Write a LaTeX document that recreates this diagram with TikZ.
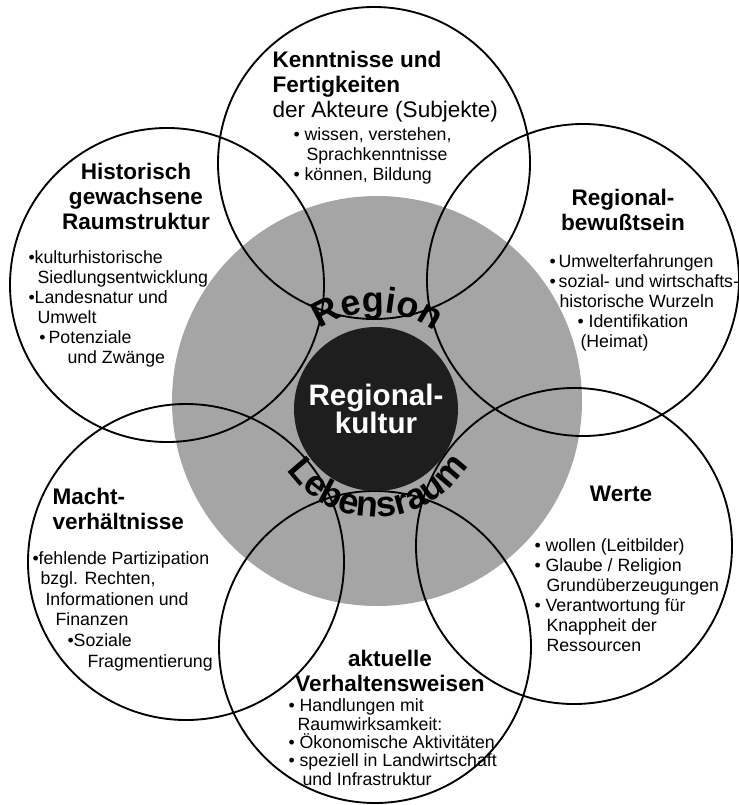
\documentclass[tikz,border=0pt]{standalone}
\usepackage{fontspec}
\setmainfont{Liberation Sans}
\usetikzlibrary{decorations.text}

\tikzset{every picture/.style={line width=0.75pt}}
\tikzset{
  ring/.style={line width=1.4pt},
  head/.style={font=\fontsize{16.9}{18.75}\selectfont\bfseries, inner sep=0pt, align=center},
  items/.style={font=\fontsize{13.3}{15}\selectfont, inner sep=0pt, align=left},
}
\newcommand{\arcfont}{\fontsize{27}{27}\selectfont\bfseries}

\begin{document}
\begin{tikzpicture}[x=0.75pt,y=0.75pt,yscale=-1,xscale=1]
\useasboundingbox (0,0) rectangle (738,805);

%Shape: Circle [Lebensraum]
\fill [color={rgb, 255:red, 165; green, 165; blue, 165 }] (377,401) circle [radius=205];

%Shape: Circle [Kenntnisse]
\draw [ring] (374,163) circle [radius=156];
%Shape: Circle [Historisch]
\draw [ring] (167,285) circle [radius=157];
%Shape: Circle [Regionalbewusstsein]
\draw [ring] (583,280) circle [radius=156];
%Shape: Circle [Macht]
\draw [ring] (186,562) circle [radius=158];
%Shape: Circle [Werte]
\draw [ring] (574,546) circle [radius=158];
%Shape: Circle [Verhalten]
\draw [ring] (375,647) circle [radius=156];

%Shape: Circle [Regionalkultur]
\fill [color={rgb, 255:red, 30; green, 30; blue, 30 }] (376,409) circle [radius=82];

% Text Node (base = last line)
\node (kultur) [font=\fontsize{22.2}{21}\selectfont\bfseries, text=white, align=center, inner sep=0pt, anchor=base] at (376,433) {Regional-\\kultur};

% Arc Text
\begin{scope}[yscale=-1]
\path [decorate, decoration={text along path, text align=center, text={|\arcfont|Region}}] (376,-409) ++(150:97) arc [start angle=150, end angle=28, radius=97];
\path [decorate, decoration={text along path, text align=center, text={|\arcfont|Lebensraum}}] (376,-409) ++(190:108) arc [start angle=190, end angle=353, radius=108];
\end{scope}

% Text Node
\node (kenn) [head, align=left, anchor=base west] at (272,118) {Kenntnisse und\\Fertigkeiten\\{\mdseries der Akteure (Subjekte)}};
% Text Node
\node (kennlist) [items, anchor=base west] at (293,181) {\textbullet\ wissen, verstehen,\\\hspace*{9.75pt}Sprachkenntnisse\\\textbullet\ können, Bildung};

% Text Node
\node (hist) [head, anchor=base] at (136,230) {Historisch\\gewachsene\\Raumstruktur};
% Text Node
\node (histlist) [items, anchor=base west] at (28,363) {\textbullet kulturhistorische\\\hspace*{6.75pt}Siedlungsentwicklung\\\textbullet Landesnatur und\\\hspace*{6.75pt}Umwelt\\\hspace*{8.25pt}\textbullet\,Potenziale\\\hspace*{29.25pt}und Zwänge};

% Text Node
\node (regb) [head, anchor=base] at (623,231) {Regional-\\bewußtsein};
% Text Node
\node (regblist) [items, anchor=base west] at (549,347) {\textbullet\,Umwelterfahrungen\\\textbullet\,sozial- und wirtschafts-\\\hspace*{7.5pt}historische Wurzeln\\\hspace*{21pt}\textbullet\ Identifikation\\\hspace*{23.25pt}(Heimat)};

% Text Node
\node (macht) [head, align=left, anchor=base west] at (52,529) {Macht-\\verhältnisse};
% Text Node
\node (machtlist) [items, font=\fontsize{13.3}{15.4}\selectfont, anchor=base west] at (32,667) {\textbullet fehlende Partizipation\\\hspace*{6pt}bzgl. Rechten,\\\hspace*{9.75pt}Informationen und\\\hspace*{17.25pt}Finanzen\\\hspace*{26.25pt}\textbullet Soziale\\\hspace*{41.25pt}Fragmentierung};

% Text Node
\node (werte) [head, anchor=base] at (621,501) {Werte};
% Text Node
\node (wertelist) [items, anchor=base west] at (534,651) {\textbullet\ wollen (Leitbilder)\\\textbullet\ Glaube / Religion\\\hspace*{9pt}Grundüberzeugungen\\\textbullet\ Verantwortung für\\\hspace*{9pt}Knappheit der\\\hspace*{9pt}Ressourcen};

% Text Node
\node (akt) [head, anchor=base] at (390,691) {aktuelle\\Verhaltensweisen};
% Text Node
\node (aktlist) [items, font=\fontsize{13.3}{13.7}\selectfont, anchor=base west] at (288,785) {\textbullet\ Handlungen mit\\\hspace*{6.75pt}Raumwirksamkeit:\\\textbullet\ Ökonomische Aktivitäten\\\textbullet\ speziell in Landwirtschaft\\\hspace*{10.5pt}und Infrastruktur};

\end{tikzpicture}
\end{document}
